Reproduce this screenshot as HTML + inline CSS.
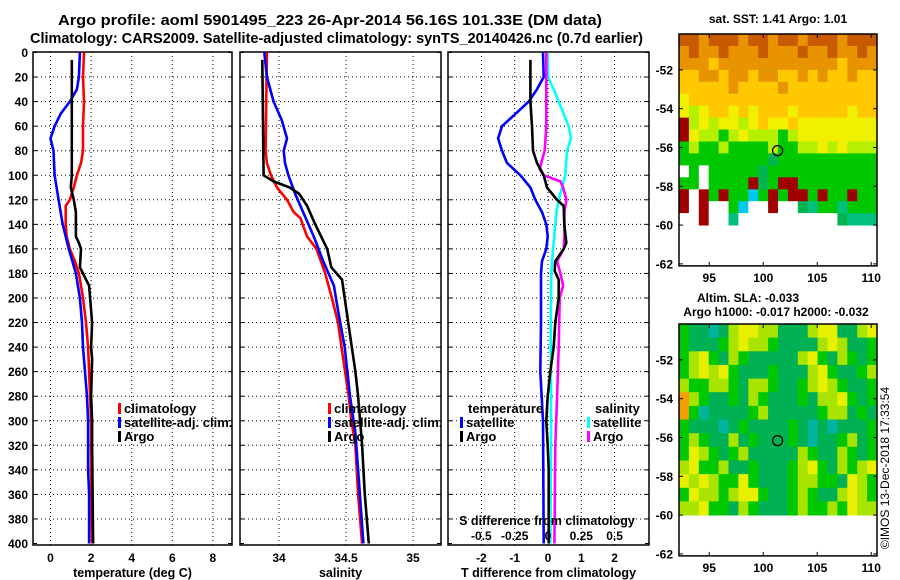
<!DOCTYPE html>
<html><head><meta charset="utf-8"><style>
html,body{margin:0;padding:0;background:#fff;width:900px;height:580px;overflow:hidden}
svg text{font-family:"Liberation Sans",sans-serif;font-weight:bold;fill:#000}
</style></head><body>
<svg id="c" width="900" height="580" xmlns="http://www.w3.org/2000/svg">
<text x="58" y="25" font-size="15" textLength="544" lengthAdjust="spacingAndGlyphs">Argo profile: aoml 5901495_223 26-Apr-2014 56.16S 101.33E (DM data)</text>
<text x="30" y="43" font-size="15" textLength="613" lengthAdjust="spacingAndGlyphs">Climatology: CARS2009. Satellite-adjusted climatology: synTS_20140426.nc (0.7d earlier)</text>
<text x="778" y="23" font-size="12" text-anchor="middle">sat. SST: 1.41 Argo: 1.01</text>
<text x="748" y="302" font-size="12" text-anchor="middle">Altim. SLA: -0.033</text>
<text x="776" y="316" font-size="12" text-anchor="middle">Argo h1000: -0.017 h2000: -0.032</text>
<text transform="translate(889,468) rotate(-90)" font-size="12" text-anchor="middle" style="font-weight:normal">©IMOS 13-Dec-2018 17:33:54</text>
</svg>
<script>
// ---------- data ----------
const depthTicks=[0,20,40,60,80,100,120,140,160,180,200,220,240,260,280,300,320,340,360,380,400];
const tempTicks=[0,2,4,6,8];
const salTicks=[34,34.5,35];
const tdiffTicks=[-2,-1,0,1,2];
const sdiffTicks=[-0.5,-0.25,0,0.25,0.5];
const sdiffTickLabels=["-0.5","-0.25","0","0.25","0.5"];

const climTdepth=[0,20,40,60,80,90,100,110,120,125,140,150,160,170,180,190,200,220,240,260,280,300,340,400];
const climT=[1.65,1.6,1.65,1.6,1.6,1.5,1.3,1.15,0.95,0.75,0.75,0.8,0.95,1.2,1.4,1.5,1.6,1.75,1.85,1.9,1.95,2.0,2.0,2.05];
const satTdepth=[0,20,30,40,50,60,70,80,100,120,140,160,180,200,220,240,260,280,300,340,360,400];
const satT=[1.45,1.4,1.3,0.95,0.5,0.2,0.0,0.15,0.2,0.4,0.6,0.9,1.25,1.45,1.55,1.6,1.7,1.8,1.85,1.85,1.9,1.9];
const argoTdepth=[6,100,110,120,130,150,155,160,175,180,190,200,220,240,250,280,300,320,400];
const argoT=[1.05,1.05,1.0,1.15,1.25,1.25,1.4,1.5,1.45,1.6,1.9,1.95,2.05,2.0,2.05,2.0,2.05,2.05,2.1];

const climSdepth=[0,80,90,100,110,120,130,135,150,160,180,200,220,250,280,300,320,360,400];
const climS=[33.91,33.9,33.91,33.94,33.985,34.06,34.11,34.16,34.21,34.28,34.345,34.395,34.44,34.48,34.52,34.54,34.57,34.59,34.62];
const satSdepth=[0,20,40,55,70,80,90,100,115,130,150,170,190,210,240,280,310,340,400];
const satS=[33.89,33.91,33.96,34.02,34.06,34.035,34.045,34.07,34.12,34.18,34.26,34.33,34.41,34.44,34.49,34.53,34.57,34.59,34.63];
const argoSdepth=[6,100,105,110,115,125,140,160,175,185,200,230,260,280,320,360,400];
const argoS=[33.875,33.885,33.96,34.08,34.15,34.21,34.27,34.36,34.39,34.47,34.49,34.53,34.57,34.59,34.62,34.64,34.67];

const dSatTdepth=[0,20,30,40,50,60,70,80,90,100,110,120,130,140,150,160,170,180,220,260,300,400];
const dSatT=[-0.15,-0.13,-0.33,-0.58,-0.98,-1.38,-1.5,-1.38,-1.23,-0.83,-0.53,-0.38,-0.18,-0.05,-0.01,-0.05,-0.18,-0.21,-0.21,-0.23,-0.15,-0.13];
const dArgoTdepth=[6,40,60,80,90,100,110,120,125,140,155,160,170,178,185,200,220,240,260,280,300,320,340,400];
const dArgoT=[-0.53,-0.53,-0.48,-0.45,-0.33,-0.13,-0.03,0.27,0.47,0.49,0.55,0.47,0.22,0.2,0.32,0.32,0.22,0.17,0.07,-0.01,-0.05,-0.01,0.02,0.02];
const dSatSdepth=[0,20,30,40,50,60,70,80,100,110,120,130,140,160,180,220,300,400];
const dSatS=[-0.003,0.0,0.043,0.08,0.118,0.155,0.173,0.143,0.13,0.105,0.08,0.063,0.055,0.038,0.025,0.02,0.023,0.018];
const dArgoSdepth=[0,20,60,80,95,100,105,110,120,130,150,160,170,180,190,200,240,280,320,400];
const dArgoS=[-0.013,-0.013,-0.013,-0.025,-0.063,-0.033,0.093,0.113,0.138,0.123,0.123,0.118,0.068,0.093,0.113,0.088,0.08,0.068,0.055,0.048];

const sstRows=[
"BBOBBBOBBOBBOBBBOBBB","OBOOBOOOBOOOBOOBOOBO","OOOYOOOOOOOOOOOOYOOO","YYOOYOOYOOYYOYOYYOYY",
"YYYYYOYYYYOYYYYYYYYY","yYYYYYYYYYYYYYYYYYYY","yLyYYyYyYYYyYYYYYyYY","RLyLyyLyYyyYyyyyyyyy",
"RyLLGLyLLLGLyyyyyyyy","GLGGLGGGGLGGLLyLyLLL","GGGGGGGGGgGGGGGGGGGG","WGWGGGGGgGGGGGGGGGGG",
"GGWGGGGRgGRRGGGGGGGG","RWRGRGGCGRGRRGRGGRGG","RWRWWGCWWRWWgTGGTGGG","WWRWWTWWWWWWWWWWgTTT"];
const slaRows=[
"GDDTDLYYLLDDDLYYDDLY","GDDDGLYLLGDDDDLYLDDG","GLYGDLGDDDDDLYGDLGDG","GLYLYGDDDGDDDLYGDDGL",
"LGGLLGDLLGDDGLYLGDDG","OLGDDGDLGDDDGDLLYGDG","OGTDDDDGLDDDDDGLLDGD","GDDDTDGDDDDGDTDTDDDG",
"GLGDDLDGDDDGDTDDGLDG","GYLGDGLDDDDDLGDDLGDG","LYGGLDDGDDDGLYGDLGLY","YLYLGGYGDDDGLLGGDYLG",
"GYLLGLYYGDDGLGDDLYLG","LLYGGDLGDDDGLGGLGYLL"];
const lonTicks=[95,100,105,110];
const latTicks=[-52,-54,-56,-58,-60,-62];
const argoLon=101.33, argoLat=-56.16;

// ---------- rendering ----------
const svg=document.getElementById('c');
const NS='http://www.w3.org/2000/svg';
function mk(tag,attrs,parent){const e=document.createElementNS(NS,tag);for(const k in attrs)e.setAttribute(k,attrs[k]);(parent||svg).appendChild(e);return e;}
const Y0=52.5,YK=1.2275,TOP=52,BOT=545;
const ys=d=>Y0+d*YK;
const panels=[
 {x0:33,x1:232,xs:v=>50.5+v*20.3,ticks:tempTicks,label:'temperature (deg C)',name:'temperature'},
 {x0:240,x1:441,xs:v=>279+(v-34)*134,ticks:salTicks,label:'salinity',name:'salinity'},
 {x0:448,x1:649,xs:v=>548+v*33.3,ticks:tdiffTicks,label:'T difference from climatology',name:'difference'}];
panels.forEach((p,i)=>{
 const g=mk('g',{});
 
 
 depthTicks.forEach(d=>{
  if(d>0&&d<400){const l=mk('line',{x1:p.x0,x2:p.x1,y1:ys(d),y2:ys(d),stroke:'#000','stroke-width':1,'stroke-dasharray':'1,3'},g);
  }
  mk('line',{x1:p.x0,x2:p.x0+4,y1:ys(d),y2:ys(d),stroke:'#000'},g);
  mk('line',{x1:p.x1-4,x2:p.x1,y1:ys(d),y2:ys(d),stroke:'#000'},g);
  if(i===0){const t=mk('text',{x:28,y:ys(d)+4.5,'font-size':12,'text-anchor':'end'},g);t.textContent=d;
   }
 });
 p.ticks.forEach(v=>{const x=p.xs(v);
  const l=mk('line',{x1:x,x2:x,y1:TOP,y2:BOT,stroke:'#000','stroke-width':1,'stroke-dasharray':'1,3'},g);
  
  const t=mk('text',{x:x,y:562,'font-size':12,'text-anchor':'middle'},g);t.textContent=v;
  });
 const fr=mk('rect',{x:p.x0,y:TOP,width:p.x1-p.x0,height:BOT-TOP,fill:'none',stroke:'#000','stroke-width':1.5},g);
 
 const at=mk('text',{x:(p.x0+p.x1)/2,y:577,'font-size':12.5,'text-anchor':'middle'},g);at.textContent=p.label;
 
});
function line(p,depths,vals,color,name,scale){
 const pts=depths.map((d,i)=>p.xs(vals[i]*(scale||1)).toFixed(1)+','+ys(d).toFixed(1)).join(' ');
 const e=mk('polyline',{points:pts,fill:'none',stroke:color,'stroke-width':2.6,'stroke-linejoin':'round'});
 
 
}
line(panels[0],climTdepth,climT,'#ff0000','climatology-temperature-line');
line(panels[0],satTdepth,satT,'#0000ff','satellite-temperature-line');
line(panels[0],argoTdepth,argoT,'#000000','argo-temperature-line');
line(panels[1],climSdepth,climS,'#ff0000','climatology-salinity-line');
line(panels[1],satSdepth,satS,'#0000ff','satellite-salinity-line');
line(panels[1],argoSdepth,argoS,'#000000','argo-salinity-line');
line(panels[2],dSatSdepth,dSatS,'#00ffff','satellite-salinity-diff-line',4);
line(panels[2],dArgoSdepth,dArgoS,'#ff00ff','argo-salinity-diff-line',4);
line(panels[2],dSatTdepth,dSatT,'#0000ff','satellite-temperature-diff-line');
line(panels[2],dArgoTdepth,dArgoT,'#000000','argo-temperature-diff-line');
const st=mk('text',{x:547,y:525,'font-size':12.5,'text-anchor':'middle'});st.textContent='S difference from climatology';

sdiffTicks.forEach((v,i)=>{const t=mk('text',{x:panels[2].xs(v*4),y:540,'font-size':12,'text-anchor':'middle'});t.textContent=sdiffTickLabels[i];
 });
function leg(x,y,color,label){
 const g=mk('g',{});
 
 
 if(color)mk('rect',{x:x,y:y-10,width:3,height:11,fill:color},g);
 const t=mk('text',{x:x+6,y:y,'font-size':13},g);t.textContent=label;
}
[[118,'#ff0000','climatology'],[118,'#0000ff','satellite-adj. clim.'],[118,'#000','Argo']].forEach((e,i)=>leg(e[0],413+i*14,e[1],e[2]));
[[328,'#ff0000','climatology'],[328,'#0000ff','satellite-adj. clim.'],[328,'#000','Argo']].forEach((e,i)=>leg(e[0],413+i*14,e[1],e[2]));
leg(462,413,null,'temperature');leg(460,427,'#0000ff','satellite');leg(460,441,'#000','Argo');
leg(589,413,null,'salinity');leg(587,427,'#00ffff','satellite');leg(587,441,'#ff00ff','Argo');
const sstCol={B:'#c85a00',O:'#e89400',Y:'#ffc800',y:'#f0f000',L:'#b4f000',G:'#00c800',g:'#00b450',R:'#a00000',C:'#00c8f0',W:'#ffffff',T:'#00c080'};
const slaCol={G:'#00c800',D:'#00b055',T:'#00b4a0',Y:'#e6f000',L:'#a8e400',O:'#f0a000'};
function map(m){
 const g=mk('g',{});
 
 
 const lonS=v=>679+(v-92.2)*10.8, latS=v=>m.ytop+(-50.15-v)*19.4;
 const nr=m.rows.length,nc=m.rows[0].length;
 const latBot=-60, cw=(877-679)/nc, ch=(latS(latBot)-latS(-50.15))/nr;
 m.rows.forEach((r,i)=>{for(let j=0;j<nc;j++){
  const c=mk('rect',{x:(679+j*cw).toFixed(1),y:(latS(-50.15)+i*ch).toFixed(1),width:(cw+0.5).toFixed(1),height:(ch+0.5).toFixed(1),fill:m.pal[r[j]]},g);
  }});
 mk('rect',{x:679,y:m.ytop,width:198,height:latS(-62)+2-m.ytop,fill:'none',stroke:'#000','stroke-width':1.5},g);
 latTicks.forEach(v=>{mk('line',{x1:679,x2:683,y1:latS(v),y2:latS(v),stroke:'#000'},g);mk('line',{x1:873,x2:877,y1:latS(v),y2:latS(v),stroke:'#000'},g);
  const t=mk('text',{x:673,y:latS(v)+4.5,'font-size':12,'text-anchor':'end'},g);t.textContent=v;
  });
 const yb=latS(-62)+2;
 lonTicks.forEach(v=>{mk('line',{x1:lonS(v),x2:lonS(v),y1:yb,y2:yb-4,stroke:'#000'},g);mk('line',{x1:lonS(v),x2:lonS(v),y1:m.ytop,y2:m.ytop+4,stroke:'#000'},g);
  const t=mk('text',{x:lonS(v),y:yb+16,'font-size':12,'text-anchor':'middle'},g);t.textContent=v;
  });
 const c=mk('circle',{cx:lonS(argoLon),cy:latS(argoLat),r:5,fill:'none',stroke:'#000','stroke-width':1.3},g);
 
}
map({name:'sst-map',rows:sstRows,pal:sstCol,ytop:34});
map({name:'sla-map',rows:slaRows,pal:slaCol,ytop:324});
</script>
</body></html>
